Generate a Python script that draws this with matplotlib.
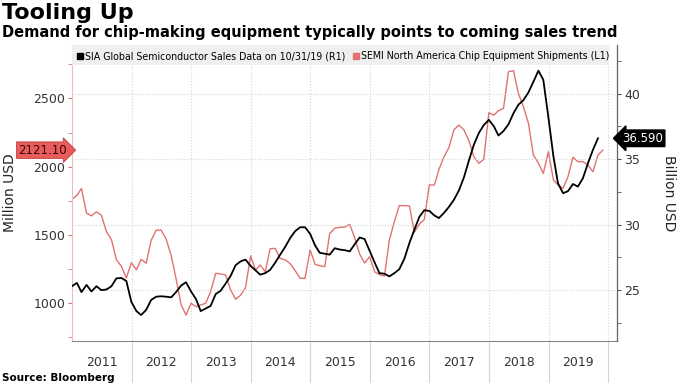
import matplotlib
matplotlib.use("Agg")
import matplotlib.pyplot as plt
import matplotlib.dates as mdates
from matplotlib.lines import Line2D
from matplotlib.patches import Rectangle
import pandas as pd

# SEMI North America chip equipment shipments, million USD (left axis), month-end Dec 2010 .. Nov 2019
semi_vals = [1760, 1790, 1840, 1660, 1640, 1670, 1645, 1525, 1465, 1320, 1270, 1185,
             1297, 1244, 1322, 1293, 1460, 1535, 1537, 1470, 1350, 1180, 990, 914,
             1000, 975, 988, 1000, 1085, 1220, 1215, 1207, 1097, 1030, 1060, 1115,
             1346, 1244, 1280, 1231, 1400, 1402, 1329, 1318, 1290, 1240, 1183, 1183,
             1390, 1285, 1275, 1268, 1510, 1550, 1556, 1558, 1578, 1480, 1360, 1295,
             1341, 1230, 1210, 1200, 1463, 1600, 1715, 1715, 1712, 1520, 1580, 1612,
             1866, 1866, 1980, 2073, 2140, 2270, 2305, 2270, 2190, 2073, 2025, 2054,
             2395, 2378, 2410, 2427, 2695, 2703, 2537, 2439, 2317, 2085, 2025, 1951,
             2110, 1903, 1866, 1842, 1927, 2069, 2037, 2037, 2012, 1963, 2085, 2121.10]

# SIA global semiconductor sales, billion USD (right axis), month-end Dec 2010 .. Oct 2019
sia_vals = [25.3, 25.55, 24.85, 25.4, 24.9, 25.3, 25.0, 25.05, 25.3, 25.9, 25.93, 25.7,
            24.1, 23.4, 23.1, 23.5, 24.25, 24.5, 24.53, 24.5, 24.45, 24.85, 25.35, 25.6,
            24.9, 24.3, 23.4, 23.6, 23.8, 24.7, 24.95, 25.5, 26.1, 26.9, 27.2, 27.33,
            26.85, 26.5, 26.18, 26.3, 26.55, 27.1, 27.7, 28.3, 28.98, 29.5, 29.8, 29.8,
            29.3, 28.4, 27.85, 27.78, 27.71, 28.2, 28.1, 28.05, 27.96, 28.5, 29.02, 28.9,
            28.0, 27.1, 26.3, 26.25, 26.05, 26.3, 26.6, 27.4, 28.6, 29.6, 30.6, 31.1,
            31.05, 30.7, 30.5, 30.9, 31.35, 31.9, 32.6, 33.6, 34.9, 36.1, 37.0, 37.6,
            38.0, 37.5, 36.8, 37.15, 37.65, 38.5, 39.15, 39.5, 40.1, 40.9, 41.75, 41.05,
            38.2, 35.2, 33.15, 32.4, 32.55, 33.1, 32.9, 33.55, 34.7, 35.7, 36.59]

years = list(range(2011, 2020))
semi_dates = pd.date_range("2010-12-31", periods=len(semi_vals), freq="ME")
sia_dates = pd.date_range("2010-12-31", periods=len(sia_vals), freq="ME")

RED = "#e07272"
GRID = "#d4d4d4"

fig = plt.figure(figsize=(6.8, 3.83), dpi=100)
ax = fig.add_axes([0.1059, 0.1104, 0.8015, 0.7721])
ax2 = ax.twinx()

ax.plot(semi_dates, semi_vals, color=RED, lw=1.0)
ax2.plot(sia_dates, sia_vals, color="black", lw=1.3)

ax.set_xlim(pd.Timestamp("2011-01-01"), pd.Timestamp("2020-02-25"))
ax.set_ylim(726, 2891)
ax2.set_ylim(21.14, 43.71)

# x axis: separators at year starts, year labels in the middle
ax.set_xticks([pd.Timestamp(f"{y}-01-01") for y in years[1:] + [2020]])
ax.set_xticks([pd.Timestamp(f"{y}-07-02") for y in years], minor=True)
ax.xaxis.set_major_formatter(plt.NullFormatter())
ax.xaxis.set_minor_formatter(mdates.DateFormatter("%Y"))
ax.tick_params(axis="x", which="major", length=35, color=GRID, width=0.8)
ax.tick_params(axis="x", which="minor", length=0, pad=11, labelsize=9, labelcolor="#333333")
ax.grid(axis="x", which="major", ls=":", color=GRID, lw=0.8)

# left axis (red series)
ax.set_yticks([1000, 1500, 2000, 2500])
ax.set_yticks([750, 1250, 1750, 2250, 2750], minor=True)
ax.tick_params(axis="y", which="both", direction="out", length=3, color=RED, labelsize=9,
               labelcolor="#333333", pad=2)
ax.set_ylabel("Million USD", fontsize=10, color="#222222", labelpad=12)

# right axis (black series)
ax2.set_yticks([25, 30, 35, 40])
ax2.set_yticks([22.5, 27.5, 32.5, 37.5, 42.5], minor=True)
ax2.tick_params(axis="y", which="both", direction="out", length=3, color="#555555",
                labelsize=9, labelcolor="#333333", pad=2)
ax2.grid(axis="y", which="major", ls=":", color=GRID, lw=0.8)
ax2.set_ylabel("Billion USD", fontsize=10, color="#222222", rotation=270, labelpad=26)

for a in (ax, ax2):
    a.spines["top"].set_visible(False)
ax.spines["left"].set_color("#e8c0c0")
ax.spines["bottom"].set_color("#888888")
ax2.spines["left"].set_visible(False)
ax2.spines["bottom"].set_visible(False)
ax2.spines["right"].set_color("#666666")

# legend band
ax2.add_patch(Rectangle((0, 0.932), 0.984, 0.068, transform=ax2.transAxes,
                        facecolor="#efefef", edgecolor="none", zorder=0))
handles = [Line2D([], [], marker="s", ls="", color="black", markersize=5),
           Line2D([], [], marker="s", ls="", color=RED, markersize=5)]
labels = ["SIA Global Semiconductor Sales Data on 10/31/19 (R1)",
          "SEMI North America Chip Equipment Shipments (L1)"]
ax2.legend(handles, labels, loc="upper left", bbox_to_anchor=(-0.004, 1.005), ncol=2,
           frameon=False, fontsize=6.85, handlelength=0.6, handletextpad=0.2,
           columnspacing=0.8, borderpad=0.3)

# last value badges
ax.annotate(f"{semi_vals[-1]:.2f}", xy=(-0.054, semi_vals[-1]),
            xycoords=ax.get_yaxis_transform(), ha="center", va="center",
            fontsize=8.5, color="#3a0505", annotation_clip=False,
            bbox=dict(boxstyle="rarrow,pad=0.15", fc="#e85c5c", ec="#c04040", lw=0.6))
ax2.annotate(f"{sia_vals[-1]:.3f}", xy=(1.047, sia_vals[-1]),
             xycoords=ax2.get_yaxis_transform(), ha="center", va="center",
             fontsize=8.5, color="white", annotation_clip=False,
             bbox=dict(boxstyle="larrow,pad=0.15", fc="black", ec="black"))

fig.text(0.003, 0.966, "Tooling Up", fontsize=16, fontweight="bold", va="center", color="black")
fig.text(0.003, 0.915, "Demand for chip-making equipment typically points to coming sales trend",
         fontsize=10.5, fontweight="bold", va="center", color="black")
fig.text(0.003, 0.013, "Source: Bloomberg", fontsize=7.5, fontweight="bold", va="center")

fig.savefig("out.png", dpi=100)
